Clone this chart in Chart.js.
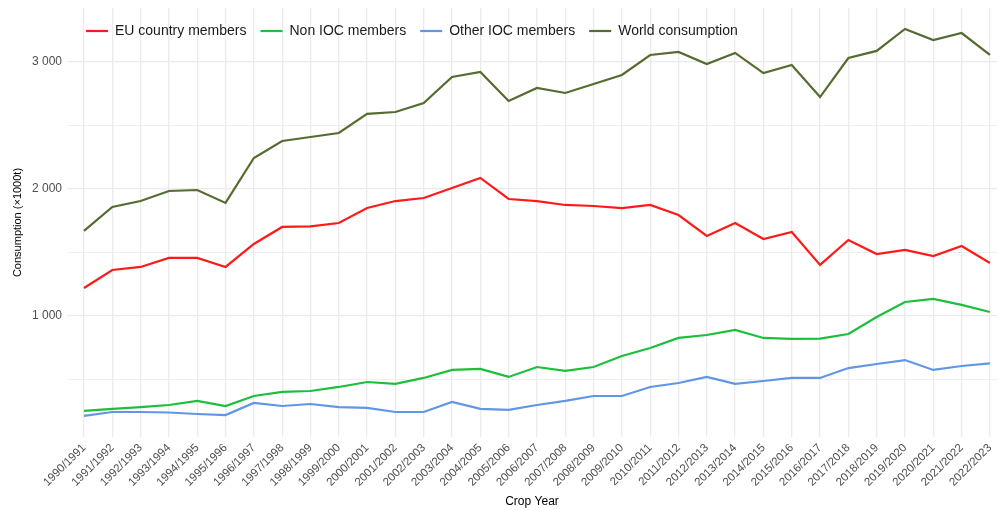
<!DOCTYPE html>
<html>
<head>
<meta charset="utf-8">
<title>Olive oil consumption</title>
<script src="https://cdn.jsdelivr.net/npm/chart.js@4.4.0/dist/chart.umd.min.js"></script>
<style>
  html, body { margin: 0; padding: 0; background: #fff; }
</style>
</head>
<body>
<canvas id="chart" width="997" height="510"></canvas>
<script>
// crop years (x axis)
const cropYears = [
  '1990/1991', '1991/1992', '1992/1993', '1993/1994', '1994/1995', '1995/1996',
  '1996/1997', '1997/1998', '1998/1999', '1999/2000', '2000/2001', '2001/2002',
  '2002/2003', '2003/2004', '2004/2005', '2005/2006', '2006/2007', '2007/2008',
  '2008/2009', '2009/2010', '2010/2011', '2011/2012', '2012/2013', '2013/2014',
  '2014/2015', '2015/2016', '2016/2017', '2017/2018', '2018/2019', '2019/2020',
  '2020/2021', '2021/2022', '2022/2023'
];

// consumption, x1000 t
const euMembers = [1220, 1362, 1386, 1457, 1457, 1386, 1567, 1701, 1705, 1732, 1850, 1905,
  1929, 2008, 2087, 1921, 1905, 1874, 1866, 1850, 1874, 1795, 1630, 1732,
  1606, 1661, 1402, 1598, 1488, 1520, 1472, 1551, 1417];
const nonIocMembers = [252, 268, 283, 299, 331, 291, 370, 402, 409, 441, 480, 465,
  512, 575, 583, 520, 598, 567, 598, 685, 748, 827, 850, 890,
  827, 819, 822, 858, 992, 1110, 1134, 1087, 1031];
const otherIocMembers = [213, 244, 244, 240, 228, 220, 315, 291, 307, 283, 276, 244,
  244, 323, 268, 260, 299, 331, 370, 370, 441, 472, 520, 465,
  488, 512, 512, 590, 622, 653, 575, 606, 627];
const worldConsumption = [1670, 1858, 1905, 1984, 1992, 1890, 2244, 2378, 2409, 2441, 2591, 2606,
  2677, 2882, 2921, 2693, 2795, 2756, 2827, 2898, 3055, 3079, 2984, 3071,
  2913, 2976, 2724, 3031, 3087, 3260, 3173, 3228, 3055];

const seriesNames = ['EU country members', 'Non IOC members', 'Other IOC members', 'World consumption'];
const seriesColors = ['#ff1a1a', '#1cbf3c', '#6196e6', '#556b2f'];

// y axis: grid every 500, labels only on the thousands
const yGridValues = [500, 1000, 1500, 2000, 2500, 3000];
const yTickValues = [1000, 2000, 3000];
const yTickLabels = ['1 000', '2 000', '3 000'];

const FONT = "'Liberation Sans', Arial, sans-serif";

function toPoints(values) {
  return values.map((v, i) => ({ x: i, y: v }));
}

// legend sits inside the plot (like the ggplot original), so pull the plot area up under it
const legendInside = {
  id: 'legendInside',
  afterLayout(chart) {
    const area = chart.chartArea;
    const y = chart.scales.y;
    area.top = 8;
    area.height = area.bottom - area.top;
    y.top = 8;
    y.height = y.bottom - y.top;
    y.configure();
    chart.legend.left = area.left + 5;
    chart.legend.top = 10;
  }
};

const allSeries = [euMembers, nonIocMembers, otherIocMembers, worldConsumption];

new Chart(document.getElementById('chart'), {
  type: 'line',
  data: {
    datasets: allSeries.map((values, i) => ({
      label: seriesNames[i],
      data: toPoints(values),
      borderColor: seriesColors[i],
      backgroundColor: seriesColors[i],
      borderWidth: 2.2,
      pointRadius: 0,
      tension: 0
    }))
  },
  options: {
    responsive: false,
    animation: false,
    layout: { padding: 0 },
    plugins: {
      legend: {
        position: 'top',
        align: 'start',
        fullSize: false,
        labels: {
          usePointStyle: true,
          pointStyle: 'line',
          pointStyleWidth: 22,
          padding: 14,
          color: '#1a1a1a',
          font: { family: FONT, size: 14 }
        }
      },
      tooltip: { enabled: false }
    },
    scales: {
      x: {
        type: 'linear',
        min: -0.6,
        max: 32.25,
        afterFit(scale) {
          scale.height = 73;
          scale.paddingLeft = 0;
          scale.paddingRight = 0;
        },
        border: { display: false },
        grid: { color: '#ebebeb', lineWidth: 1.3, drawTicks: false },
        ticks: {
          stepSize: 1,
          includeBounds: false,
          autoSkip: false,
          maxRotation: 45,
          minRotation: 45,
          padding: 4,
          color: '#4d4d4d',
          font: { family: FONT, size: 11.5 },
          callback: v => cropYears[v] ?? ''
        },
        title: {
          display: true,
          text: 'Crop Year',
          color: '#000',
          font: { family: FONT, size: 12 },
          padding: { top: 0, bottom: 1 }
        }
      },
      y: {
        min: 47,
        max: 3425,
        afterFit(scale) {
          scale.width = 67;
        },
        afterBuildTicks(scale) {
          scale.ticks = yGridValues.map(v => ({ value: v }));
        },
        border: { display: false },
        grid: {
          color: '#ebebeb',
          lineWidth: c => (c.tick && c.tick.value % 1000 === 0 ? 1.3 : 0.8),
          drawTicks: false
        },
        ticks: {
          autoSkip: false,
          padding: 5,
          color: '#4d4d4d',
          font: { family: FONT, size: 12 },
          callback: v => {
            const k = yTickValues.indexOf(v);
            return k >= 0 ? yTickLabels[k] : '';
          }
        },
        title: {
          display: true,
          text: 'Consumption (×1000t)',
          color: '#000',
          font: { family: FONT, size: 11 },
          padding: { top: 11, bottom: 0 }
        }
      }
    }
  },
  plugins: [legendInside]
});
</script>
</body>
</html>
